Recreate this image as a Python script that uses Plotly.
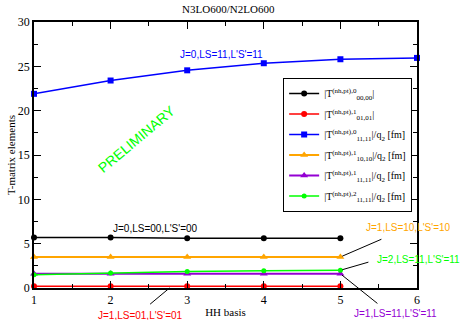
import plotly.graph_objects as go

x5 = [1, 2, 3, 4, 5]
x6 = [1, 2, 3, 4, 5, 6]
t000 = [5.7, 5.7, 5.6, 5.6, 5.6]
t101 = [0.2, 0.2, 0.2, 0.2, 0.2]
t011 = [21.9, 23.4, 24.55, 25.35, 25.8, 25.95]
t110 = [3.5, 3.5, 3.5, 3.5, 3.5]
t111 = [1.6, 1.6, 1.6, 1.6, 1.6]
t211 = [1.5, 1.7, 1.85, 1.95, 2.0]

names = [
    "|T<sup>(nh,pt),0</sup><sub>00,00</sub>|",
    "|T<sup>(nh,pt),1</sup><sub>01,01</sub>|",
    "|T<sup>(nh,pt),0</sup><sub>11,11</sub>|/q<sub>2</sub> [fm]",
    "|T<sup>(nh,pt),1</sup><sub>10,10</sub>|/q<sub>2</sub> [fm]",
    "|T<sup>(nh,pt),1</sup><sub>11,11</sub>|/q<sub>2</sub> [fm]",
    "|T<sup>(nh,pt),2</sup><sub>11,11</sub>|/q<sub>2</sub> [fm]",
]

serif = "Liberation Serif"
sans = "Liberation Sans"

fig = go.Figure()
specs = [
    (x5, t000, "black", "circle", 6, 1.5),
    (x5, t101, "#ff0000", "circle", 6, 1.5),
    (x6, t011, "#0000ff", "square", 6, 1.5),
    (x5, t110, "#ffa500", "triangle-up", 7, 2),
    (x5, t111, "#9400d3", "triangle-up", 7, 2),
    (x5, t211, "#00ff00", "circle", 5, 1.5),
]
for i, ((xs, ys, c, sym, sz, lw), nm) in enumerate(zip(specs, names)):
    fig.add_trace(go.Scatter(x=xs, y=ys, mode="lines+markers", name=nm,
                             legendgroup=f"g{i}",
                             line=dict(color=c, width=lw),
                             marker=dict(color=c, symbol=sym, size=sz),
                             cliponaxis=False))

axis_common = dict(showline=True, linecolor="black", linewidth=1.5, mirror="allticks",
                   ticks="inside", ticklen=7, tickwidth=1.2, tickcolor="black",
                   showgrid=False, zeroline=False, automargin=False,
                   tickfont=dict(family=serif, size=12, color="black"),
                   minor=dict(ticks="inside", ticklen=4, tickcolor="black", tickwidth=1))

fig.update_xaxes(range=[1, 6], dtick=1, tick0=1,
                 title=dict(text="HH basis", font=dict(family=serif, size=11, color="black"), standoff=2),
                 **axis_common)
fig.update_yaxes(range=[0, 30], dtick=5, tick0=0,
                 title=dict(text="T-matrix elements", font=dict(family=serif, size=11, color="black"), standoff=0),
                 **axis_common)
fig.update_xaxes(minor=dict(dtick=0.5))
fig.update_yaxes(minor=dict(dtick=2.5))

anns = []
def txt(x, y, s, c, xref="x", yref="y", size=10, angle=0):
    anns.append(dict(x=x, y=y, xref=xref, yref=yref, text=s, showarrow=False,
                     xanchor="center", yanchor="middle",
                     font=dict(family=sans, size=size, color=c), textangle=angle))

txt(3.45, 26.3, "J=0,LS=11,L'S'=11", "#0000ff")
txt(2.59, 6.75, "J=0,LS=00,L'S'=00", "black")
txt(2.34, 16.8, "PRELIMINARY", "#00ff00", size=14, angle=-40)
txt(0.277, -0.102, "J=1,LS=01,L'S'=01", "#ff0000", xref="paper", yref="paper")
txt(0.977, 0.229, "J=1,LS=10,L'S'=10", "#ffa500", xref="paper", yref="paper")
txt(1.003, 0.109, "J=2,LS=11,L'S'=11", "#00ff00", xref="paper", yref="paper")
txt(0.943, -0.094, "J=1,LS=11,L'S'=11", "#9400d3", xref="paper", yref="paper")

def arrow(x, y, ax, ay):
    anns.append(dict(x=x, y=y, xref="x", yref="y", text=" ", showarrow=True,
                     arrowhead=0, arrowwidth=1, arrowcolor="black",
                     ax=ax, ay=ay, standoff=2))

arrow(2.79, 0.15, -24, 20)
arrow(5.0, 3.5, 44, -19)
arrow(5.0, 2.0, 31, -9)
arrow(5.0, 1.6, 40, 32)

fig.update_layout(
    width=463, height=320,
    margin=dict(l=34, r=46, t=22, b=32),
    paper_bgcolor="white", plot_bgcolor="white",
    title=dict(text="N3LO600/N2LO600", x=0.493, xanchor="center", y=0.985, yanchor="top",
               font=dict(family=serif, size=11, color="black")),
    legend=dict(x=0.65, y=0.79, xanchor="left", yanchor="top",
                bordercolor="black", borderwidth=1.2, bgcolor="white",
                font=dict(family=serif, size=10, color="black"),
                traceorder="grouped", tracegroupgap=1.5, itemwidth=30),
    annotations=anns,
    showlegend=True,
)

fig.write_html("out.html")
